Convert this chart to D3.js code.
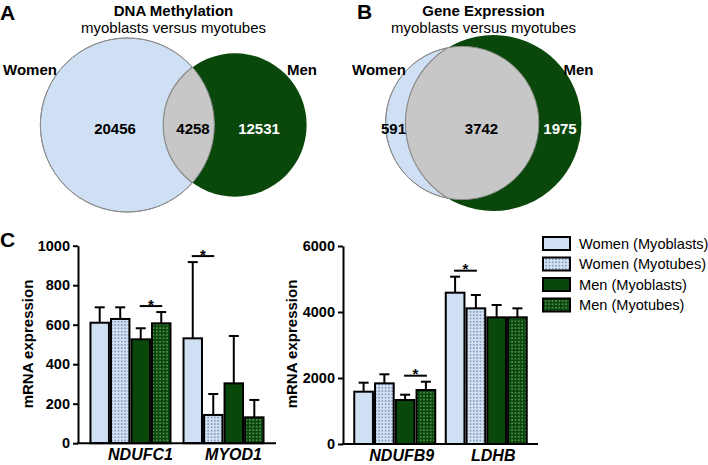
<!DOCTYPE html>
<html><head><meta charset="utf-8">
<script src="https://cdn.jsdelivr.net/npm/d3@7"></script>
<style>
html,body{margin:0;padding:0;background:#fff;}
svg{display:block;font-family:"Liberation Sans",Arial,Helvetica,sans-serif;}
</style></head>
<body>
<svg id="c" width="708" height="465"></svg>
<script>
// ---------- DATA ----------
const vennSets = ["Women", "Men"];
const methylationCounts = [20456, 4258, 12531];   // women only, both, men only
const expressionCounts = [591, 3742, 1975];        // women only, both, men only
const vennTitles = ["DNA Methylation", "Gene Expression"];
const vennSubtitle = "myoblasts versus myotubes";

const series = ["Women (Myoblasts)", "Women (Myotubes)", "Men (Myoblasts)", "Men (Myotubes)"];
const genesLeft = ["NDUFC1", "MYOD1"];
const meansLeft = [[610, 629, 526, 607], [531, 143, 303, 131]];
const errorsLeft = [[78, 59, 56, 57], [386, 106, 240, 88]];
const sigLeft = [[0, 2, 3], [1, 0, 1]];           // gene index, series a, series b
const yTicksLeft = [0, 200, 400, 600, 800, 1000];

const genesRight = ["NDUFB9", "LDHB"];
const meansRight = [[1585, 1838, 1333, 1636], [4585, 4111, 3838, 3838]];
const errorsRight = [[273, 274, 161, 252], [485, 404, 374, 273]];
const sigRight = [[0, 2, 3], [1, 0, 1]];
const yTicksRight = [0, 2000, 4000, 6000];

const yLabel = "mRNA expression";

// ---------- STYLE ----------
const LB = "#cfe0f5", DG = "#0a470a", GR = "#c7c7c7";
const svg = d3.select("#c");
const defs = svg.append("defs");

function dotPattern(id, bg, dot, size) {
  const p = defs.append("pattern").attr("id", id).attr("patternUnits", "userSpaceOnUse")
    .attr("width", size).attr("height", size);
  p.append("rect").attr("width", size).attr("height", size).attr("fill", bg);
  p.append("rect").attr("x", size / 2 - 0.55).attr("y", size / 2 - 0.55).attr("width", 1.1).attr("height", 1.1).attr("fill", dot);
}
dotPattern("pw", LB, "#3a4660", 3.3);
dotPattern("pm", DG, "#b8e6b0", 3.4);
const fills = [LB, "url(#pw)", DG, "url(#pm)"];

// ---------- VENN ----------
function lensArea(r1, r2, d) {
  if (d >= r1 + r2) return 0;
  if (d <= Math.abs(r1 - r2)) return Math.PI * Math.min(r1, r2) ** 2;
  const a1 = Math.acos((d * d + r1 * r1 - r2 * r2) / (2 * d * r1));
  const a2 = Math.acos((d * d + r2 * r2 - r1 * r1) / (2 * d * r2));
  const t = Math.sqrt((-d + r1 + r2) * (d + r1 - r2) * (d - r1 + r2) * (d + r1 + r2));
  return r1 * r1 * a1 + r2 * r2 * a2 - 0.5 * t;
}
function solveDistance(r1, r2, target) {
  let lo = Math.abs(r1 - r2), hi = r1 + r2;
  for (let i = 0; i < 60; i++) {
    const m = (lo + hi) / 2;
    if (lensArea(r1, r2, m) > target) lo = m; else hi = m;
  }
  return (lo + hi) / 2;
}

function drawVenn(counts, opt) {
  const totW = counts[0] + counts[1], totM = counts[1] + counts[2];
  const rScale = d3.scaleSqrt().domain([0, opt.maxTotal]).range([0, opt.maxR]);
  const rW = rScale(totW), rM = rScale(totM);
  const k2 = (opt.maxR * opt.maxR) / opt.maxTotal;
  const d = solveDistance(rW, rM, Math.PI * k2 * counts[1]);
  const left = Math.min(-rW, d - rM), right = Math.max(rW, d + rM);
  const cxW = opt.cx - (left + right) / 2, cxM = cxW + d, cy = opt.cy;
  const g = svg.append("g");
  const clipId = "clip" + opt.id;
  defs.append("clipPath").attr("id", clipId).append("circle").attr("cx", cxW).attr("cy", cy).attr("r", rW);
  g.append("circle").attr("cx", cxW).attr("cy", cy).attr("r", rW).attr("fill", LB).attr("stroke", "#8c8c8c").attr("stroke-width", 1);
  g.append("circle").attr("cx", cxM).attr("cy", cy).attr("r", rM).attr("fill", DG);
  g.append("circle").attr("cx", cxM).attr("cy", cy).attr("r", rM).attr("fill", GR)
    .attr("stroke", "#8c8c8c").attr("stroke-width", 1.2).attr("clip-path", `url(#${clipId})`);
  g.append("circle").attr("cx", cxW).attr("cy", cy).attr("r", rW).attr("fill", "none").attr("stroke", "#8c8c8c").attr("stroke-width", 1);
  // titles
  g.append("text").attr("x", opt.cx).attr("y", 15.5).attr("text-anchor", "middle").attr("font-size", 15).attr("font-weight", "bold").text(opt.title);
  g.append("text").attr("x", opt.cx).attr("y", 32.5).attr("text-anchor", "middle").attr("font-size", 15).text(vennSubtitle);
  g.append("text").attr("x", opt.womenX).attr("y", 74.5).attr("font-size", 15).attr("font-weight", "bold").text(vennSets[0]);
  g.append("text").attr("x", opt.menX).attr("y", 74.5).attr("text-anchor", "end").attr("font-size", 15).attr("font-weight", "bold").text(vennSets[1]);
  counts.forEach((c, i) => {
    g.append("text").attr("x", opt.numX[i]).attr("y", 133.5).attr("text-anchor", "middle")
      .attr("font-size", 15).attr("font-weight", "bold").attr("fill", i === 2 ? "#fff" : "#000").text(c);
  });
}

drawVenn(methylationCounts, { id: "A", cx: 173.5, cy: 125, maxR: 87, maxTotal: methylationCounts[0] + methylationCounts[1],
  title: vennTitles[0], womenX: 3, menX: 317, numX: [115, 193, 259] });
drawVenn(expressionCounts, { id: "B", cx: 483.5, cy: 123, maxR: 88, maxTotal: expressionCounts[1] + expressionCounts[2],
  title: vennTitles[1], womenX: 352, menX: 593.5, numX: [393.5, 481.5, 560] });

// panel letters
[["A", 0, 20], ["B", 357, 19], ["C", 0, 247]].forEach(([t, x, y]) => {
  svg.append("text").attr("x", x).attr("y", y).attr("font-size", 21).attr("font-weight", "bold").text(t);
});

// ---------- BARS ----------
function drawBars(o) {
  const g = svg.append("g");
  const x0 = d3.scaleBand().domain(o.genes).range([o.x0, o.x1]).paddingInner(o.pi).paddingOuter(o.po);
  const x1 = d3.scaleBand().domain(d3.range(series.length)).range([0, x0.bandwidth()]).paddingInner(0.1);
  const y = d3.scaleLinear().domain([0, o.ticks[o.ticks.length - 1]]).range([o.y0, o.y1]);

  o.genes.forEach((gene, gi) => {
    const gg = g.append("g").attr("transform", `translate(${x0(gene)},0)`);
    gg.selectAll("rect").data(o.means[gi]).join("rect")
      .attr("x", (d, i) => x1(i)).attr("width", x1.bandwidth())
      .attr("y", d => y(d)).attr("height", d => y(0) - y(d))
      .attr("fill", (d, i) => fills[i]).attr("stroke", "#000").attr("stroke-width", 2);
    gg.selectAll("line.eb").data(o.means[gi]).join("line").attr("class", "eb")
      .attr("x1", (d, i) => x1(i) + x1.bandwidth() / 2).attr("x2", (d, i) => x1(i) + x1.bandwidth() / 2)
      .attr("y1", d => y(d)).attr("y2", (d, i) => y(d + o.errors[gi][i]))
      .attr("stroke", "#000").attr("stroke-width", 2);
    gg.selectAll("line.cap").data(o.means[gi]).join("line").attr("class", "cap")
      .attr("x1", (d, i) => x1(i) + x1.bandwidth() / 2 - 5).attr("x2", (d, i) => x1(i) + x1.bandwidth() / 2 + 5)
      .attr("y1", (d, i) => y(d + o.errors[gi][i])).attr("y2", (d, i) => y(d + o.errors[gi][i]))
      .attr("stroke", "#000").attr("stroke-width", 2);
  });
  // significance
  o.sig.forEach(([gi, a, b]) => {
    const gene = o.genes[gi];
    const top = Math.max(o.means[gi][a] + o.errors[gi][a], o.means[gi][b] + o.errors[gi][b]);
    const ly = y(top) - 6;
    const xa = x0(gene) + x1(a) + x1.bandwidth() / 2 - 1, xb = x0(gene) + x1(b) + x1.bandwidth() / 2 + 1;
    g.append("line").attr("x1", xa).attr("x2", xb).attr("y1", ly).attr("y2", ly).attr("stroke", "#000").attr("stroke-width", 2);
    g.append("text").attr("x", (xa + xb) / 2).attr("y", ly + 3.5).attr("text-anchor", "middle")
      .attr("font-size", 15).attr("font-weight", "bold").text("*");
  });
  // y axis
  const ya = g.append("g").attr("transform", `translate(${o.x0},0)`)
    .call(d3.axisLeft(y).tickValues(o.ticks).tickFormat(d3.format("d")).tickSize(5).tickPadding(3).tickSizeOuter(0));
  ya.select(".domain").attr("stroke-width", 2);
  ya.selectAll(".tick line").attr("stroke-width", 2);
  ya.selectAll("text").attr("font-size", 14.5).attr("font-weight", "bold").attr("font-family", "Liberation Sans, Arial, sans-serif").attr("fill", "#000");
  // x axis
  const xa = g.append("g").attr("transform", `translate(0,${o.y0})`)
    .call(d3.axisBottom(x0).tickSize(0).tickPadding(0).tickSizeOuter(0));
  xa.select(".domain").attr("stroke-width", 2).attr("d", `M${o.x0 - 1},0H${o.x1}`);
  xa.selectAll("text").attr("font-size", 16).attr("font-weight", "bold").attr("font-style", "italic")
    .attr("font-family", "Liberation Sans, Arial, sans-serif").attr("fill", "#000")
    .attr("dy", null).attr("y", 17).attr("dx", o.labelDx);
  // y label
  g.append("text").attr("transform", `translate(${o.labX},344) rotate(-90)`).attr("text-anchor", "middle")
    .attr("font-size", 15).attr("font-weight", "bold").text(yLabel);
}

drawBars({ genes: genesLeft, means: meansLeft, errors: errorsLeft, sig: sigLeft, ticks: yTicksLeft,
  x0: 78, x1: 276, pi: 0.14, po: 0.134, y0: 443.2, y1: 245.7, labX: 32.5, labelDx: 10 });
drawBars({ genes: genesRight, means: meansRight, errors: errorsRight, sig: sigRight, ticks: yTicksRight,
  x0: 343, x1: 538, pi: 0.115, po: 0.123, y0: 444, y1: 246, labX: 296.5, labelDx: 7 });

// ---------- LEGEND ----------
const lg = svg.append("g");
const ly = d3.scalePoint().domain(series).range([243.5, 305]);
series.forEach((s, i) => {
  lg.append("rect").attr("x", 543).attr("y", ly(s) - 6.5).attr("width", 27).attr("height", 13)
    .attr("fill", fills[i]).attr("stroke", "#000").attr("stroke-width", 2);
  lg.append("text").attr("x", 579).attr("y", ly(s) + 5).attr("font-size", 14.6).text(s);
});
</script>
</body></html>
